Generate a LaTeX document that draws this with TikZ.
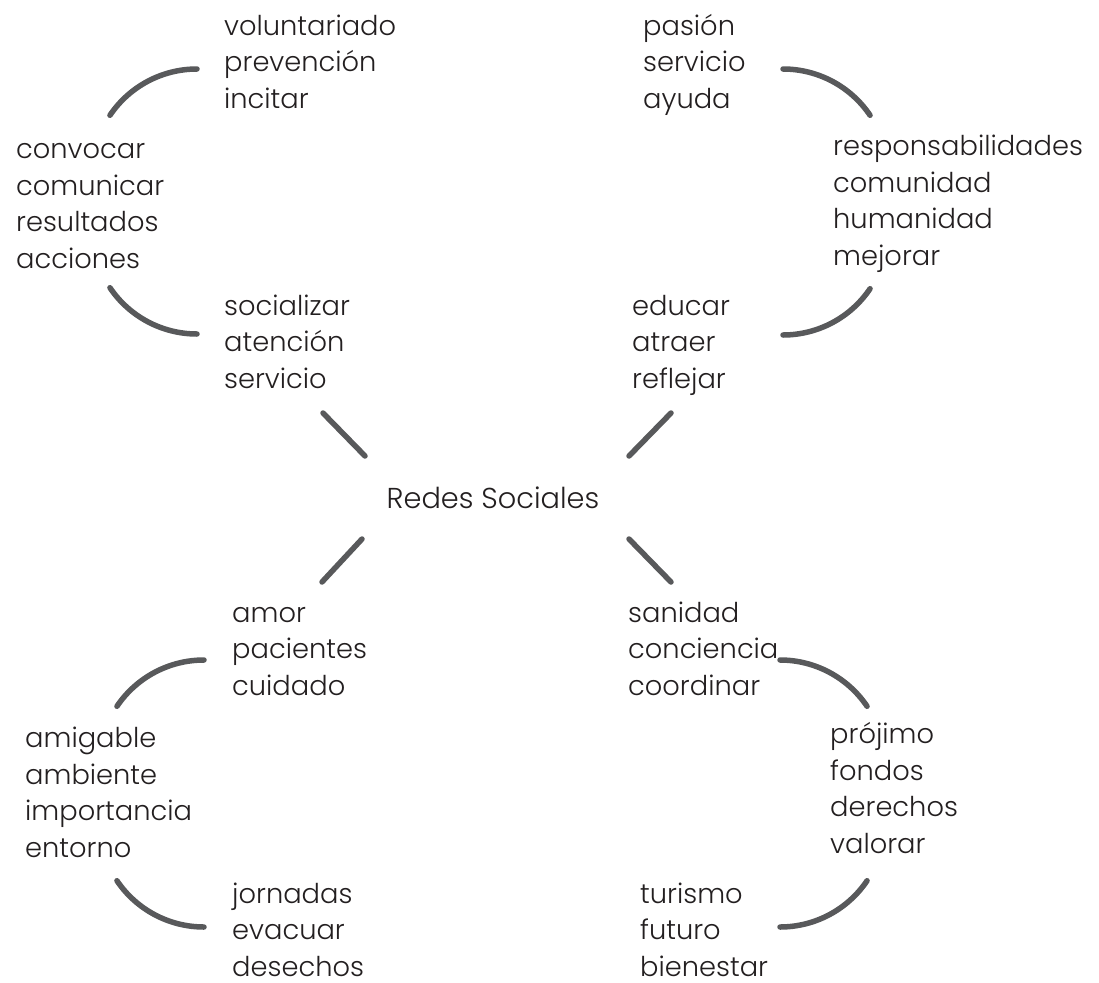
\documentclass[tikz,border=0pt]{standalone}
\usepackage{fontspec}
\setmainfont{Poppins}[UprightFont=* Light]
\definecolor{txt}{HTML}{231F20}
\definecolor{ln}{HTML}{58595B}
\begin{document}
\begin{tikzpicture}[x=1pt,y=1pt,
  words/.style={anchor=base west,align=left,inner sep=0pt,text=txt,
    font=\fontsize{27.3}{36.4}\selectfont},
  hub/.style={anchor=base,inner sep=0pt,text=txt,font=\fontsize{28.8}{36}\selectfont},
  curve/.style={draw=ln,line width=5.5pt,line cap=round},
]
\useasboundingbox (0,0) rectangle (1099,-982);
% centre
\node[hub] (hub) at (493,-508) {Redes Sociales};
% top-left group (anchored at last baseline)
\node[words] (tl1) at (224,-108) {voluntariado\\prevención\\incitar};
\node[words] (tl2) at (16,-268) {convocar\\comunicar\\resultados\\acciones};
\node[words] (tl3) at (224,-388) {socializar\\atención\\servicio};
% top-right group
\node[words] (tr1) at (643,-108) {pasión\\servicio\\ayuda};
\node[words] (tr2) at (833,-265) {responsabilidades\\comunidad\\humanidad\\mejorar};
\node[words] (tr3) at (632,-388) {educar\\atraer\\reflejar};
% bottom-left group
\node[words] (bl1) at (232,-695) {amor\\pacientes\\cuidado};
\node[words] (bl2) at (25,-857) {amigable\\ambiente\\importancia\\entorno};
\node[words] (bl3) at (232,-976) {jornadas\\evacuar\\desechos};
% bottom-right group
\node[words] (br1) at (628,-695) {sanidad\\conciencia\\coordinar};
\node[words] (br2) at (830,-853) {prójimo\\fondos\\derechos\\valorar};
\node[words] (br3) at (640,-976) {turismo\\futuro\\bienestar};
% arc start points
\coordinate (tlA) at (197,-69);
\coordinate (tlB) at (197,-334);
\coordinate (trA) at (783,-69);
\coordinate (trB) at (783,-335);
\coordinate (blA) at (204,-660);
\coordinate (blB) at (204,-927);
\coordinate (brA) at (780,-660);
\coordinate (brB) at (780,-927);
\draw[curve] (tlA) arc[start angle=90,end angle=146,radius=105];
\draw[curve] (tlB) arc[start angle=270,end angle=214,radius=105];
\draw[curve] (trA) arc[start angle=90,end angle=34,radius=105];
\draw[curve] (trB) arc[start angle=270,end angle=326,radius=105];
\draw[curve] (blA) arc[start angle=90,end angle=146,radius=105];
\draw[curve] (blB) arc[start angle=270,end angle=214,radius=105];
\draw[curve] (brA) arc[start angle=90,end angle=34,radius=105];
\draw[curve] (brB) arc[start angle=270,end angle=326,radius=105];
% spokes
\coordinate (s1a) at (323,-413); \coordinate (s1b) at (365,-456);
\coordinate (s2a) at (671,-413); \coordinate (s2b) at (629,-456);
\coordinate (s3a) at (362,-539); \coordinate (s3b) at (322,-582);
\coordinate (s4a) at (629,-539); \coordinate (s4b) at (671,-582);
\draw[curve] (s1a) -- (s1b);
\draw[curve] (s2a) -- (s2b);
\draw[curve] (s3a) -- (s3b);
\draw[curve] (s4a) -- (s4b);
\end{tikzpicture}
\end{document}
